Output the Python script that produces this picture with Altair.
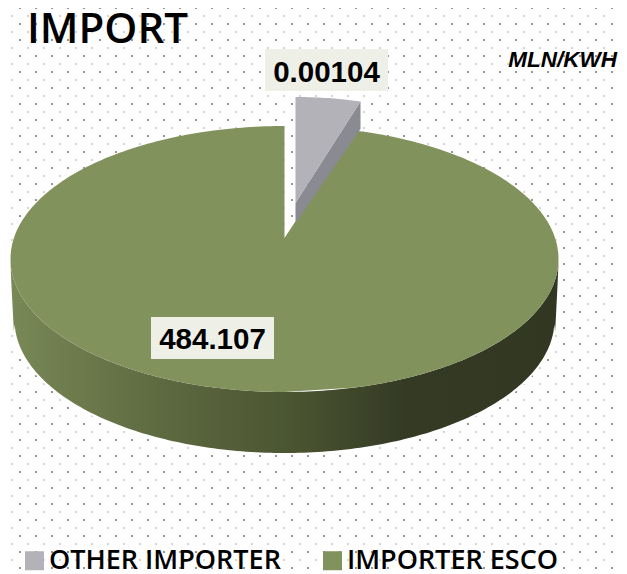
import math
import altair as alt
import pandas as pd

# --- chart values ---
names = ["OTHER IMPORTER", "IMPORTER ESCO"]
labels = ["0.00104", "484.107"]
drawn_shares = [0.0417, 0.9583]   # share of the pie as it is drawn
colors = ["#b2b2b8", "#82925c"]
title_text = "IMPORT"
unit_text = "MLN/KWH"

# --- layout constants (pixels of the 627x574 picture) ---
CX, CY, A, B = 284.5, 259.0, 274.0, 133.0
APEX_Y = 238.0
BOTTOM_CY, BOTTOM_A, BOTTOM_B = 320.0, 270.0, 133.0
DX, DY = 11.0, -29.0
GRAY_WIDTH = 65.0
GRAY_APEX_Y, GRAY_SIDE_APEX_Y, GRAY_SIDE_FAR = 203.0, 223.0, 129.0

x_scale = alt.Scale(domain=[8, 619], range=[0, 611], nice=False, zero=False)
y_scale = alt.Scale(domain=[8, 574], range=[0, 566], nice=False, zero=False)
X = lambda f="x": alt.X(f"{f}:Q", scale=x_scale, axis=None)
Y = lambda f="y": alt.Y(f"{f}:Q", scale=y_scale, axis=None)

# background dots
dots_big = pd.DataFrame([{"x": 4 + 16 * i, "y": 8 + 16 * j} for i in range(1, 39) for j in range(36)])
dots_small = pd.DataFrame([{"x": 12 + 16 * i, "y": 16 + 16 * j} for i in range(38) for j in range(35)])
big = alt.Chart(dots_big).mark_circle(size=5, color="#7f7f7f", opacity=1).encode(x=X(), y=Y())
small = alt.Chart(dots_small).mark_circle(size=2.5, color="#9a9a9a", opacity=1).encode(x=X(), y=Y())

sweep = drawn_shares[0] * 2 * math.pi
x1 = CX + A * math.sin(sweep)
y1 = CY - B * math.cos(sweep)

def upper(x):
    return CY - B * math.sqrt(max(0, 1 - ((x - CX) / A) ** 2))

def lower(x):
    return CY + B * math.sqrt(max(0, 1 - ((x - CX) / A) ** 2))

xs = sorted(CX + A * math.sin(math.radians(t)) for t in range(-90, 91))

# green top face
rows = []
for x in xs:
    if x < CX - 0.001 or x > x1:
        rows.append({"x": x, "y": upper(x), "y2": lower(x)})
rows.append({"x": CX - 0.01, "y": upper(CX), "y2": lower(CX)})
rows.append({"x": CX, "y": APEX_Y, "y2": lower(CX)})
rows.append({"x": x1, "y": y1, "y2": lower(x1)})
green = pd.DataFrame(rows).sort_values("x")
green["name"] = names[1]

# green side
side_rows = []
for x in xs:
    d = abs(x - CX)
    if d >= BOTTOM_A:
        frac = (A - d) / (A - BOTTOM_A)
        yb = lower(x) + frac * (BOTTOM_CY - CY)
    else:
        yb = BOTTOM_CY + BOTTOM_B * math.sqrt(1 - (d / BOTTOM_A) ** 2)
    side_rows.append({"x": x, "y": lower(x), "y2": yb})
side = pd.DataFrame(side_rows)

# gray wedge
gx0 = CX + DX
gtop = []
gside = []
for k in range(21):
    f = k / 20
    x = gx0 + GRAY_WIDTH * f
    arc_y = upper(CX + (x1 - CX) * f) + DY
    edge = GRAY_APEX_Y + (upper(x1) + DY - GRAY_APEX_Y) * f
    gtop.append({"x": x, "y": arc_y, "y2": edge, "name": names[0]})
    gside.append({"x": x, "y": edge, "y2": GRAY_SIDE_APEX_Y + (GRAY_SIDE_FAR - GRAY_SIDE_APEX_Y) * f})
gtop = pd.DataFrame(gtop)
gside = pd.DataFrame(gside)

gradient = alt.Gradient(
    gradient="linear", x1=0, x2=1, y1=0, y2=0,
    stops=[
        alt.GradientStop(color="#788856", offset=0),
        alt.GradientStop(color="#5f6b41", offset=0.26),
        alt.GradientStop(color="#4a5431", offset=0.52),
        alt.GradientStop(color="#343a24", offset=0.72),
        alt.GradientStop(color="#323722", offset=1),
    ],
)

color = alt.Color(
    "name:N",
    scale=alt.Scale(domain=names, range=colors),
    legend=alt.Legend(
        orient="none", legendX=13, legendY=539, direction="horizontal", title=None,
        symbolType="square", symbolSize=361, symbolStrokeWidth=0,
        labelFont="Open Sans", labelFontSize=27, labelFontWeight=600, labelColor="#000000",
        labelOffset=1, columnPadding=38, labelLimit=300, symbolOpacity=1,
    ),
)

halo_l = alt.Chart(side).mark_area(color="white", stroke="white", strokeWidth=4).encode(x=X(), y=Y(), y2="y2:Q")
side_l = alt.Chart(side).mark_area(color=gradient).encode(x=X(), y=Y(), y2="y2:Q")
green_l = alt.Chart(green).mark_area(opacity=1).encode(x=X(), y=Y(), y2="y2:Q", color=color)
gside_l = alt.Chart(gside).mark_area(color="#8a8a92").encode(x=X(), y=Y(), y2="y2:Q")
gtop_l = alt.Chart(gtop).mark_area(opacity=1).encode(x=X(), y=Y(), y2="y2:Q", color=color)

# value labels
boxes = pd.DataFrame({
    "x": [265, 151], "x2": [388, 274], "y": [49, 317], "y2": [91, 359],
    "tx": [326.5, 212.5], "ty": [81.5, 349], "label": labels,
})
box_l = alt.Chart(boxes).mark_rect(color="#eef0e8").encode(
    x=alt.X("x:Q", scale=x_scale, axis=None), x2="x2:Q",
    y=alt.Y("y:Q", scale=y_scale, axis=None), y2="y2:Q",
)
label_l = alt.Chart(boxes).mark_text(
    font="Liberation Sans", fontWeight="bold", fontSize=29.5, color="#000000",
    align="center", baseline="alphabetic",
).encode(x=X("tx"), y=Y("ty"), text="label:N")

unit_l = alt.Chart(pd.DataFrame({"x": [617], "y": [67], "t": [unit_text]})).mark_text(
    font="Liberation Sans", fontWeight="bold", fontStyle="italic", fontSize=22.5, color="#000000",
    align="right", baseline="alphabetic",
).encode(x=X(), y=Y(), text="t:N")

title_l = alt.Chart(pd.DataFrame({"x": [27], "y": [43], "t": [title_text]})).mark_text(
    font="Open Sans", fontWeight=600, fontSize=42, color="#000000",
    align="left", baseline="alphabetic",
).encode(x=X(), y=Y(), text="t:N")

chart = alt.layer(big, small, halo_l, side_l, green_l, gside_l, gtop_l, box_l, label_l, unit_l, title_l).properties(
    width=611, height=566,
    padding=0,
    autosize=alt.AutoSizeParams(type="none"),
    background="white",
).configure_view(strokeWidth=0)

chart.save("out.html", embed_options={"renderer": "svg", "actions": False})
